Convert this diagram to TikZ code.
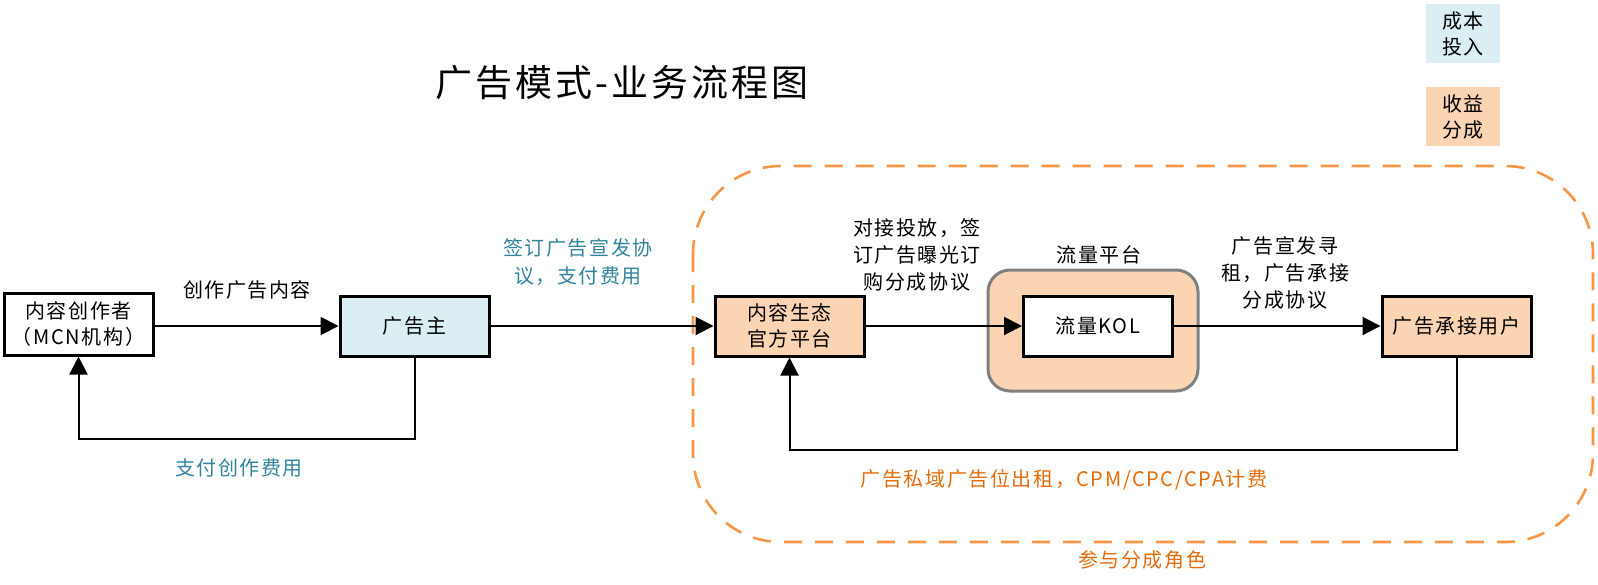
\documentclass[tikz,border=0pt]{standalone}
\usepackage{fontspec}
\setmainfont{Noto Sans CJK SC}[LetterSpace=8]
\usetikzlibrary{arrows.meta}
\definecolor{peach}{HTML}{FBD4B4}
\definecolor{lblue}{HTML}{DAEEF3}
\definecolor{orangeline}{HTML}{F79646}
\definecolor{orangetext}{HTML}{E46C0A}
\definecolor{tealtext}{HTML}{31849B}
\tikzset{
  box/.style={draw=black, line width=1.5pt, minimum width=74.5pt, minimum height=30pt, align=center, inner sep=0pt, font=\fontsize{10}{13}\selectfont},
  arr/.style={draw=black, line width=1pt, -{Triangle[length=9pt,width=9pt]}},
  lbl/.style={align=center, font=\fontsize{10}{13.7}\selectfont},
  legend/.style={minimum width=37pt, minimum height=29.5pt, align=center, inner sep=0pt, font=\fontsize{10}{13}\selectfont}
}
\begin{document}
\begin{tikzpicture}[x=0.5pt,y=-0.5pt]
\useasboundingbox (0,0) rectangle (1598,584);
% title
\node[font=\fontsize{18.5}{20}\selectfont] (title) at (622,83) {广告模式-业务流程图};
% legend
\node[legend, fill=lblue] (lg1) at (1463,33.5) {成本\\投入};
\node[legend, fill=peach] (lg2) at (1463,116.5) {收益\\分成};
% dashed region
\draw[orangeline, line width=1.3pt, dash pattern=on 9pt off 6.5pt, rounded corners=44pt] (693,166) rectangle (1593,542);
\node[lbl, text=orangetext] (rolelbl) at (1142,560) {参与分成角色};
% flow platform container
\draw[draw=gray, fill=peach, line width=1.5pt, rounded corners=11pt] (988,270) rectangle (1198,391);
\node[lbl] (flowlbl) at (1099,255) {流量平台};
% nodes
\node[box, fill=white, minimum height=31pt] (creator) at (78.5,324) {内容创作者\\（MCN机构）};
\node[box, fill=lblue] (adv) at (414.5,326) {广告主};
\node[box, fill=peach] (plat) at (789.5,326) {内容生态\\官方平台};
\node[box, fill=white] (kol) at (1098,326) {流量KOL};
\node[box, fill=peach] (user) at (1456.5,326) {广告承接用户};
% connectors
\draw[arr] (creator.east |- adv.west) -- (adv.west);
\node[lbl] (l1) at (247,290) {创作广告内容};
\draw[arr] (adv.south) -- ++(0,81) -| (creator.south);
\node[lbl, text=tealtext] (l2) at (239,468) {支付创作费用};
\draw[arr] (adv.east) -- (plat.west);
\node[lbl, text=tealtext] (l3) at (578,262) {签订广告宣发协\\议，支付费用};
\draw[arr] (plat.east) -- (kol.west);
\node[lbl] (l4) at (917,255) {对接投放，签\\订广告曝光订\\购分成协议};
\draw[arr] (kol.east) -- (user.west);
\node[lbl] (l5) at (1285,273) {广告宣发寻\\租，广告承接\\分成协议};
\draw[arr] (user.south) -- ++(0,92) -| (plat.south);
\node[lbl, text=orangetext] (l6) at (1064,480) {广告私域广告位出租，CPM/CPC/CPA计费};
\end{tikzpicture}
\end{document}
